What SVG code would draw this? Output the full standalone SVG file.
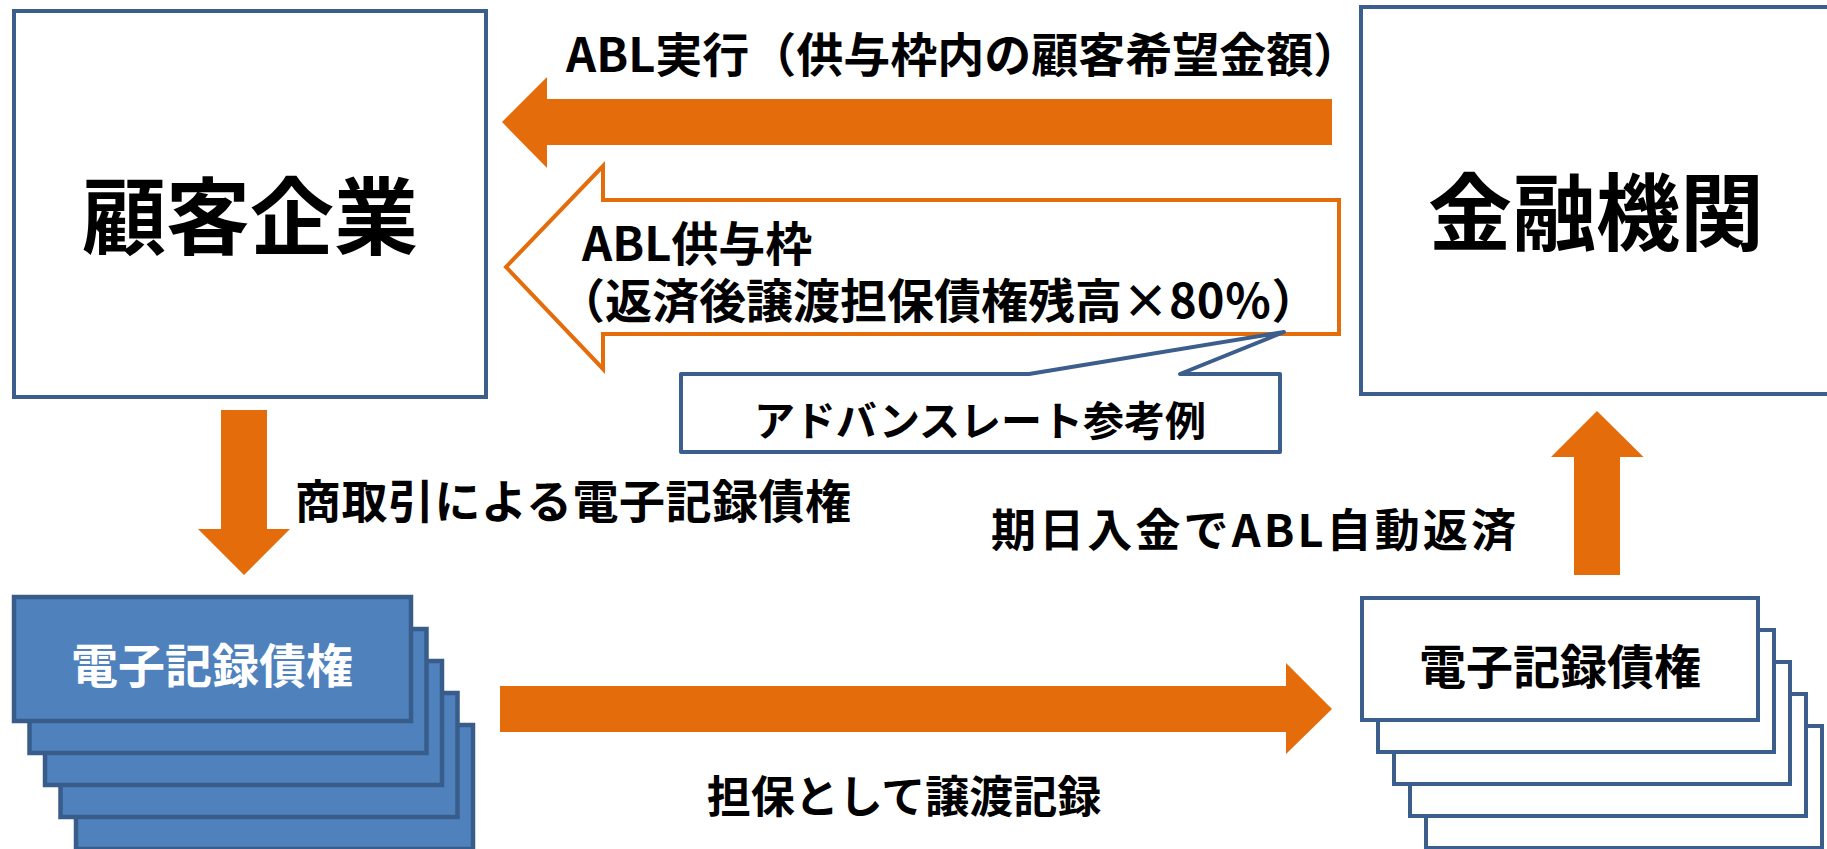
<svg xmlns="http://www.w3.org/2000/svg" width="1827" height="849" viewBox="0 0 1827 849">
<style>
  .t { font-family: "Noto Sans CJK JP", "Noto Sans CJK SC", sans-serif; font-weight: 700; fill: #000; dominant-baseline: central; }
  .box { fill: #fff; stroke: #3B5E8C; stroke-width: 4; }
  .card { fill: #fff; stroke: #3B5E8C; stroke-width: 4; }
  .bcard { fill: #4F81BD; stroke: #385D8A; stroke-width: 4.5; }
  .arr { fill: #E46C0A; stroke: none; }
  .oarr { fill: #fff; stroke: #E46C0A; stroke-width: 4; }
</style>
<rect width="1827" height="849" fill="#fff"/>

<g id="connectors">
  <polygon id="arrow-abl-exec" class="arr" points="1332,99 547,99 547,77 502,122 547,168 547,145 1332,145"/>
  <polygon id="arrow-abl-limit" class="oarr" points="1339,200 603,200 603,166 506,267 603,369 603,334 1339,334"/>
  <polygon id="arrow-down" class="arr" points="221,410 267,410 267,529 290,529 244,575 198,529 221,529"/>
  <polygon id="arrow-up" class="arr" points="1574,575 1620,575 1620,457 1643.5,457 1597,411 1551,457 1574,457"/>
  <polygon id="arrow-right" class="arr" points="500,686 1286,686 1286,663 1332,709 1286,754 1286,732 500,732"/>
</g>

<g id="labels">
  <text class="t" x="566" y="51" font-size="47">ABL実行（供与枠内の顧客希望金額）</text>
  <text class="t" font-size="47"><tspan x="582" y="240">ABL供与枠</tspan><tspan x="558" y="297">（返済後譲渡担保債権残高×80％）</tspan></text>
  <text class="t" x="295" y="498" font-size="46" textLength="556" lengthAdjust="spacing">商取引による電子記録債権</text>
  <text class="t" x="991" y="527" font-size="45" textLength="525" lengthAdjust="spacing">期日入金でABL自動返済</text>
  <text class="t" x="904" y="794" font-size="44" text-anchor="middle">担保として譲渡記録</text>
</g>

<g id="customer">
  <rect class="box" x="14" y="11" width="472" height="386"/>
  <text class="t" x="250" y="211" font-size="84" text-anchor="middle">顧客企業</text>
</g>

<g id="bank">
  <rect class="box" x="1361" y="7" width="470" height="387"/>
  <text class="t" x="1596" y="207" font-size="84" text-anchor="middle">金融機関</text>
</g>

<g id="advance-rate-callout">
  <path class="box" d="M681,374 L1029,374 L1284,332 L1180,374 L1280,374 L1280,452 L681,452 Z" stroke-linejoin="round"/>
  <text class="t" x="980" y="418" font-size="41" text-anchor="middle">アドバンスレート参考例</text>
</g>

<g id="ecr-customer">
  <rect class="bcard" x="76" y="725" width="397" height="124"/>
  <rect class="bcard" x="60.5" y="693" width="397" height="124"/>
  <rect class="bcard" x="45" y="661" width="397" height="124"/>
  <rect class="bcard" x="29.5" y="629" width="397" height="124"/>
  <rect class="bcard" x="14" y="597" width="397" height="124"/>
  <text class="t" x="212" y="662" font-size="47" text-anchor="middle" style="fill:#fff">電子記録債権</text>
</g>

<g id="ecr-bank">
  <rect class="card" x="1426" y="726" width="396" height="122"/>
  <rect class="card" x="1410" y="694" width="396" height="122"/>
  <rect class="card" x="1394" y="662" width="396" height="122"/>
  <rect class="card" x="1378" y="630" width="396" height="122"/>
  <rect class="card" x="1362" y="598" width="396" height="122"/>
  <text class="t" x="1560" y="663" font-size="47" text-anchor="middle">電子記録債権</text>
</g>
</svg>
